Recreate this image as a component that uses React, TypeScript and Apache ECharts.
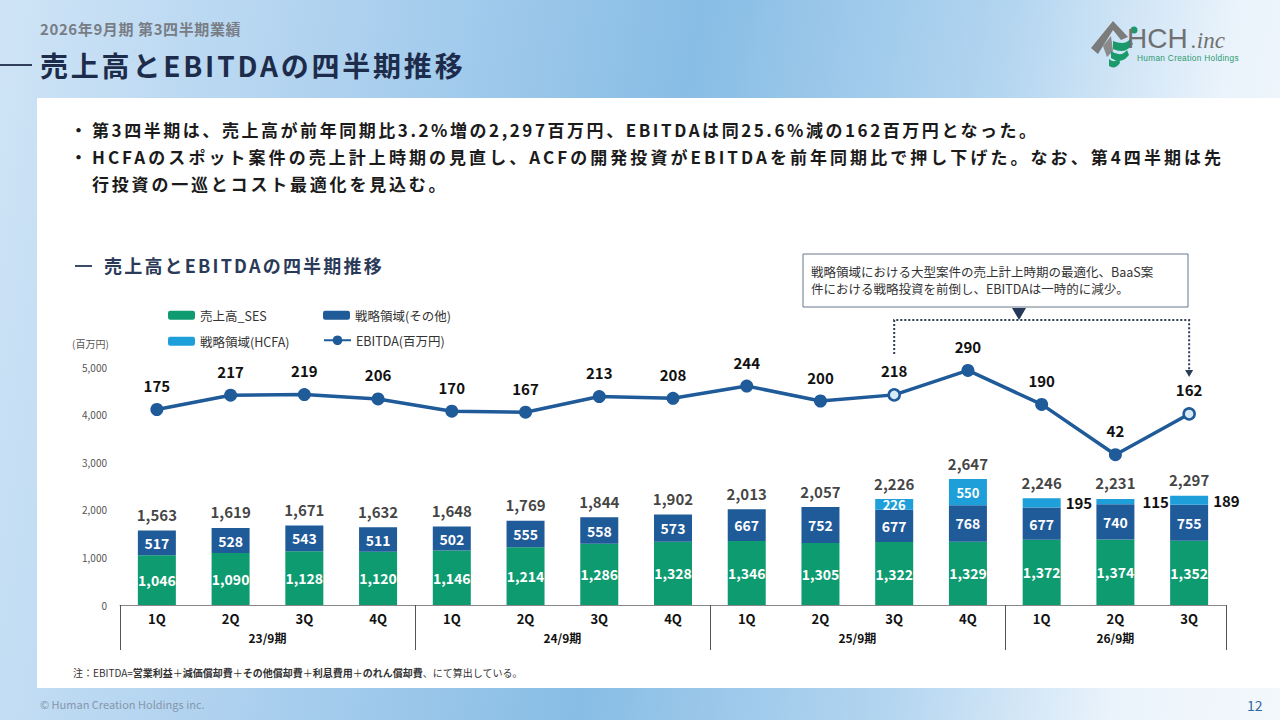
import React, { useEffect, useRef } from "react";
import * as echarts from "echarts";

// ---------- data ----------
const quarters = ["1Q", "2Q", "3Q", "4Q", "1Q", "2Q", "3Q", "4Q", "1Q", "2Q", "3Q", "4Q", "1Q", "2Q", "3Q"];
const fiscalYears = ["23/9期", "24/9期", "25/9期", "26/9期"];
const quartersPerYear = [4, 4, 4, 3];
const salesSES = [1046, 1090, 1128, 1120, 1146, 1214, 1286, 1328, 1346, 1305, 1322, 1329, 1372, 1374, 1352];
const strategicOther = [517, 528, 543, 511, 502, 555, 558, 573, 667, 752, 677, 768, 677, 740, 755];
const strategicHCFA: (number | null)[] = [null, null, null, null, null, null, null, null, null, null, 226, 550, 195, 115, 189];
const totalSales = [1563, 1619, 1671, 1632, 1648, 1769, 1844, 1902, 2013, 2057, 2226, 2647, 2246, 2231, 2297];
const ebitda = [175, 217, 219, 206, 170, 167, 213, 208, 244, 200, 218, 290, 190, 42, 162];
const highlightedQuarters = [10, 14];

const seriesNames = ["売上高_SES", "戦略領域(その他)", "戦略領域(HCFA)", "EBITDA(百万円)"];
const noteText = "戦略領域における大型案件の売上計上時期の最適化、BaaS案\n件における戦略投資を前倒し、EBITDAは一時的に減少。";

// ---------- styles ----------
const FONT = '"Noto Sans CJK JP", "Noto Sans", sans-serif';
const C_SES = "#0e9b70";
const C_OTHER = "#1f5a99";
const C_HCFA = "#1e9fd9";
const C_LINE = "#1f5a99";
const hcfaOutsideGap: Record<number, number> = { 12: 5, 13: 8, 14: 5 };

const fmt = (v: any) => (v == null || v === "" ? "" : Number(v).toLocaleString("en-US"));

const yearStarts = quartersPerYear.map((_, k) => quartersPerYear.slice(0, k).reduce((a, b) => a + b, 0));
const yearCenters = quartersPerYear.map((n, k) => yearStarts[k] + n / 2);

function buildOption(): any {
  const legendCommon = {
    itemWidth: 27,
    itemHeight: 9,
    textStyle: { fontSize: 12.5, color: "#333", fontFamily: FONT },
    selectedMode: false,
  };
  return {
    animation: false,
    textStyle: { fontFamily: FONT },
    grid: { left: 120, right: 54, top: 367, bottom: 115, containLabel: false },
    legend: [
      { ...legendCommon, data: [seriesNames[0]], left: 163, top: 304 },
      { ...legendCommon, data: [seriesNames[1]], left: 318, top: 304 },
      { ...legendCommon, data: [seriesNames[2]], left: 163, top: 330 },
      { ...legendCommon, itemHeight: 12, data: [seriesNames[3]], left: 318, top: 329 },
    ],
    xAxis: [
      {
        type: "category",
        data: quarters,
        position: "bottom",
        axisLine: { onZero: false, lineStyle: { color: "#888", width: 1 } },
        axisTick: {
          show: true,
          length: 45,
          interval: (i: number) => yearStarts.includes(i),
          lineStyle: { color: "#555", width: 1 },
        },
        axisLabel: { interval: 0, margin: 7, fontSize: 13, fontWeight: "bold", color: "#111" },
      },
      {
        type: "value",
        min: 0,
        max: quarters.length,
        interval: 0.5,
        position: "bottom",
        axisLine: { show: false, onZero: false },
        axisTick: { show: false },
        splitLine: { show: false },
        axisLabel: {
          margin: 26,
          fontSize: 12,
          fontWeight: "bold",
          color: "#111",
          formatter: (v: number) => {
            const k = yearCenters.findIndex((c) => Math.abs(c - v) < 1e-6);
            return k >= 0 ? fiscalYears[k] : "";
          },
        },
      },
    ],
    yAxis: [
      {
        type: "value",
        min: 0,
        max: 5000,
        interval: 1000,
        axisLine: { show: false },
        axisTick: { show: false },
        splitLine: { show: false },
        axisLabel: { formatter: (v: number) => fmt(v), fontSize: 10, color: "#555", margin: 13 },
      },
      { type: "value", min: -400, max: 300, show: false, splitLine: { show: false } },
    ],
    series: [
      {
        name: seriesNames[0],
        type: "bar",
        stack: "sales",
        barWidth: 38,
        itemStyle: { color: C_SES },
        label: { show: true, position: "inside", color: "#fff", fontSize: 14, fontWeight: "bold", formatter: (p: any) => fmt(p.value) },
        data: salesSES,
      },
      {
        name: seriesNames[1],
        type: "bar",
        stack: "sales",
        barWidth: 38,
        itemStyle: { color: C_OTHER },
        label: { show: true, position: "inside", color: "#fff", fontSize: 14, fontWeight: "bold", formatter: (p: any) => fmt(p.value) },
        data: strategicOther,
      },
      {
        name: seriesNames[2],
        type: "bar",
        stack: "sales",
        barWidth: 38,
        itemStyle: { color: C_HCFA },
        label: { show: true, position: "inside", color: "#fff", fontSize: 13, fontWeight: "bold", formatter: (p: any) => fmt(p.value) },
        data: strategicHCFA.map((v, i) =>
          v == null
            ? null
            : hcfaOutsideGap[i] != null
            ? { value: v, label: { position: "right", distance: hcfaOutsideGap[i], color: "#111", fontSize: 15 } }
            : v
        ),
      },
      {
        name: "total",
        type: "scatter",
        silent: true,
        symbolSize: 1,
        itemStyle: { color: "rgba(0,0,0,0)" },
        label: { show: true, position: "top", distance: 8, color: "#111", fontSize: 15, fontWeight: "bold", formatter: (p: any) => fmt(p.value) },
        data: totalSales,
        z: 5,
      },
      {
        name: seriesNames[3],
        type: "line",
        yAxisIndex: 1,
        symbol: "circle",
        symbolSize: 13,
        lineStyle: { color: C_LINE, width: 3.5 },
        itemStyle: { color: C_LINE },
        label: { show: true, position: "top", distance: 10, color: "#111", fontSize: 15, fontWeight: "bold" },
        data: ebitda.map((v, i) =>
          highlightedQuarters.includes(i)
            ? { value: v, symbolSize: 11, itemStyle: { color: "#d6ebf8", borderColor: C_LINE, borderWidth: 2.5 } }
            : v
        ),
        z: 6,
      },
    ],
  };
}

function Logo() {
  return (
    <svg width={170} height={60} viewBox="1085 12 170 60" style={{ position: "absolute", left: 1085, top: 12 }}>
      <polygon points="1091,48 1113,21 1128,37 1121,40 1113,30 1098,54" fill="#7b7b7b" />
      <polygon points="1103,46 1111,36 1113,51 1107,57" fill="#8a8a8a" />
      <path d="M1113,41 Q1125,46 1130,39 L1133,44 Q1125,55 1113,49 Z" fill="#1a9a6a" />
      <path d="M1111,51 Q1121,58 1127,50 L1129,55 Q1121,65 1111,58 Z" fill="#1a9a6a" />
      <path d="M1109,59 Q1115,64 1119,58 L1120,63 Q1115,70 1109,66 Z" fill="#1a9a6a" />
      <circle cx={1134} cy={30} r={3.5} fill="#1a9a6a" />
      <text x={1127} y={48} fontFamily="Liberation Sans, sans-serif" fontSize={28} fill="#707070">HCH</text>
      <text x={1191} y={48} fontFamily="Liberation Serif, serif" fontStyle="italic" fontSize={23} fill="#707070">.inc</text>
      <text x={1137} y={61} fontFamily="Liberation Sans, sans-serif" fontSize={8.3} letterSpacing={0.3} fill="#2d9a70">Human Creation Holdings</text>
    </svg>
  );
}

export default function App() {
  const ref = useRef<HTMLDivElement>(null);

  useEffect(() => {
    document.body.style.margin = "0";
    if (!ref.current) return;
    const chart = echarts.init(ref.current, null, { renderer: "svg" });
    chart.setOption(buildOption());

    const iL = highlightedQuarters[0];
    const iR = highlightedQuarters[1];
    const pL = chart.convertToPixel({ seriesIndex: 4 }, [iL, ebitda[iL]]) as number[];
    const pR = chart.convertToPixel({ seriesIndex: 4 }, [iR, ebitda[iR]]) as number[];
    const bracketY = 320;
    chart.setOption({
      graphic: [
        { type: "rect", shape: { x: 803, y: 254, width: 385, height: 53 }, style: { fill: "#fff", stroke: "#66768a", lineWidth: 1 } },
        {
          type: "text",
          x: 811,
          y: 263,
          style: { text: noteText, fontSize: 12.5, lineHeight: 17, fill: "#333", fontFamily: FONT, verticalAlign: "top" },
        },
        { type: "polygon", shape: { points: [[1012, 308], [1026, 308], [1019, 320]] }, style: { fill: "#23385a" } },
        {
          type: "polyline",
          shape: { points: [[pL[0], pL[1] - 41], [pL[0], bracketY], [pR[0], bracketY], [pR[0], pR[1] - 44]] },
          style: { stroke: "#2d3d58", lineWidth: 2, lineDash: [2, 2], fill: null },
        },
        {
          type: "polygon",
          shape: { points: [[pR[0] - 4, pR[1] - 44], [pR[0] + 4, pR[1] - 44], [pR[0], pR[1] - 37]] },
          style: { fill: "#2d3d58" },
        },
      ],
    });
    return () => chart.dispose();
  }, []);

  const bulletLine: React.CSSProperties = { display: "flex", height: 27, alignItems: "center" };

  return (
    <div
      style={{
        position: "fixed",
        left: 0,
        top: 0,
        width: 1280,
        height: 720,
        overflow: "hidden",
        fontFamily: FONT,
        background: "linear-gradient(100deg, #cfe4f6 0%, #aed1ef 25%, #88bde5 50%, #b3d5f0 72%, #eaf3fb 88%, #f4f8fc 100%)",
      }}
    >
      <div style={{ position: "absolute", left: 40, top: 18, fontSize: 15, fontWeight: 700, color: "#787d85", letterSpacing: 0.6 }}>
        2026年9月期 第3四半期業績
      </div>
      <div style={{ position: "absolute", left: 0, top: 64, width: 32, height: 1.5, background: "#2f3f5c" }} />
      <div style={{ position: "absolute", left: 40, top: 46, fontSize: 28, fontWeight: 700, color: "#1d2c4b", letterSpacing: 2.8, lineHeight: "38px" }}>
        売上高とEBITDAの四半期推移
      </div>
      <Logo />

      <div style={{ position: "absolute", left: 37, top: 98, width: 1243, height: 590, background: "#fff" }} />

      <div style={{ position: "absolute", left: 70, top: 116, width: 1200, fontSize: 17, fontWeight: 700, color: "#1b1b1b" }}>
        <div style={{ ...bulletLine, letterSpacing: 2.55 }}>
          <span style={{ width: 22 }}>・</span>
          <span style={{ whiteSpace: "nowrap" }}>第3四半期は、売上高が前年同期比3.2%増の2,297百万円、EBITDAは同25.6%減の162百万円となった。</span>
        </div>
        <div style={{ ...bulletLine, letterSpacing: 3.05 }}>
          <span style={{ width: 22 }}>・</span>
          <span style={{ whiteSpace: "nowrap" }}>HCFAのスポット案件の売上計上時期の見直し、ACFの開発投資がEBITDAを前年同期比で押し下げた。なお、第4四半期は先</span>
        </div>
        <div style={{ ...bulletLine, letterSpacing: 2.8 }}>
          <span style={{ width: 22 }}></span>
          <span>行投資の一巡とコスト最適化を見込む。</span>
        </div>
      </div>

      <div style={{ position: "absolute", left: 75, top: 265, width: 17, height: 1.5, background: "#3b4b68" }} />
      <div style={{ position: "absolute", left: 104, top: 253, fontSize: 18, fontWeight: 700, color: "#2b3a58", letterSpacing: 2.2, lineHeight: "24px" }}>
        売上高とEBITDAの四半期推移
      </div>

      <div style={{ position: "absolute", left: 72, top: 336, fontSize: 10, color: "#555" }}>(百万円)</div>

      <div style={{ position: "absolute", left: 73, top: 665, fontSize: 10, color: "#333", whiteSpace: "nowrap" }}>
        注：EBITDA=<b>営業利益</b>＋<b>減価償却費</b>＋<b>その他償却費</b>＋<b>利息費用</b>＋<b>のれん償却費</b>、にて算出している。
      </div>

      <div style={{ position: "absolute", left: 40, top: 696, fontSize: 11, color: "#8596ab" }}>© Human Creation Holdings inc.</div>
      <div style={{ position: "absolute", left: 1247, top: 695, fontSize: 14, color: "#2e6aa6" }}>12</div>

      <div ref={ref} style={{ position: "absolute", left: 0, top: 0, width: 1280, height: 720 }} />
    </div>
  );
}
